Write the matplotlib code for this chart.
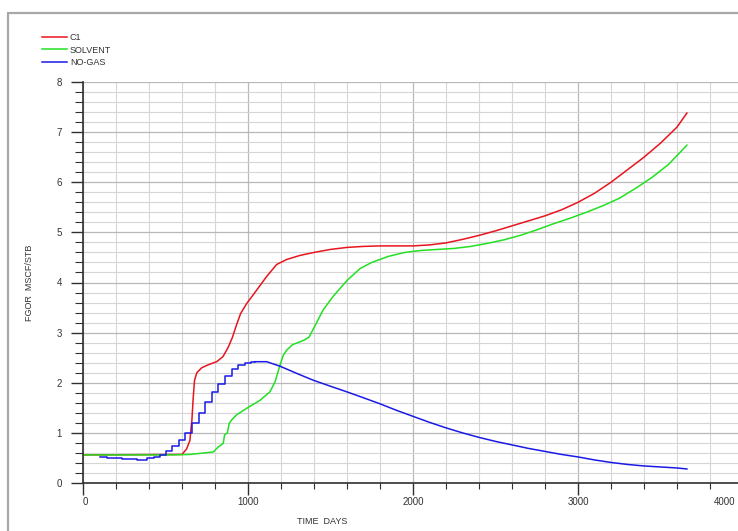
import matplotlib
matplotlib.use("Agg")
import matplotlib.pyplot as plt
import matplotlib.transforms as mtransforms
from matplotlib.ticker import MultipleLocator
from matplotlib.patches import Rectangle

plt.rcParams['font.family'] = ['Liberation Sans', 'DejaVu Sans']

# ---- data ----
series_names = ["C1", "SOLVENT", "NO-GAS"]

c1_t = [0, 600, 628, 648, 652, 660, 668, 676, 690, 720, 760, 810, 848, 879, 905, 930, 955,
        992, 1053, 1113, 1174, 1235, 1315, 1400, 1500, 1600, 1700, 1800, 1900, 2000, 2100,
        2200, 2300, 2400, 2500, 2600, 2700, 2800, 2900, 3000, 3100, 3200, 3300, 3400, 3500,
        3600, 3660]
c1_v = [0.56, 0.57, 0.68, 0.85, 1.0, 1.25, 1.7, 2.05, 2.2, 2.3, 2.36, 2.42, 2.52, 2.7, 2.9,
        3.15, 3.38, 3.58, 3.85, 4.12, 4.36, 4.46, 4.54, 4.6, 4.66, 4.7, 4.72, 4.73, 4.73, 4.73,
        4.75, 4.79, 4.86, 4.94, 5.03, 5.13, 5.23, 5.33, 5.45, 5.6, 5.78, 6.0, 6.25, 6.5, 6.78,
        7.1, 7.38]

solvent_t = [0, 527, 650, 790, 820, 850, 858, 875, 886, 901, 931, 992, 1073, 1133, 1164, 1194,
             1214, 1234, 1270, 1340, 1370, 1400, 1455, 1515, 1600, 1680, 1750, 1850, 1950,
             2050, 2150, 2250, 2350, 2450, 2550, 2650, 2750, 2850, 2950, 3050, 3150, 3250,
             3350, 3450, 3550, 3660]
solvent_v = [0.56, 0.56, 0.57, 0.62, 0.72, 0.79, 0.96, 1.0, 1.19, 1.26, 1.36, 1.49, 1.65, 1.82,
             2.02, 2.35, 2.55, 2.65, 2.76, 2.85, 2.91, 3.1, 3.45, 3.72, 4.04, 4.28, 4.4, 4.52,
             4.6, 4.64, 4.66, 4.68, 4.72, 4.78, 4.85, 4.94, 5.05, 5.17, 5.28, 5.4, 5.53, 5.68,
             5.88, 6.1, 6.36, 6.74]

# NO-GAS: early part is reported in time-step stairs, later part smooth
nogas_step_t = [103, 184, 285, 365, 416, 450, 480, 520, 560, 600, 640, 680, 720, 760, 800,
                840, 880, 920, 960, 1000, 1040]
nogas_step_v = [0.52, 0.49, 0.47, 0.46, 0.49, 0.52, 0.56, 0.64, 0.74, 0.85, 0.99, 1.19, 1.40,
                1.62, 1.82, 1.98, 2.14, 2.27, 2.35, 2.40, 2.42]
nogas_t = [1040, 1113, 1194, 1300, 1396, 1500, 1598, 1700, 1800, 1900, 2000, 2100, 2200, 2300,
           2400, 2500, 2600, 2700, 2800, 2900, 3000, 3100, 3200, 3300, 3400, 3500, 3600, 3660]
nogas_v = [2.42, 2.42, 2.33, 2.18, 2.05, 1.93, 1.82, 1.70, 1.58, 1.45, 1.33, 1.21, 1.10, 1.00,
           0.91, 0.83, 0.76, 0.69, 0.63, 0.57, 0.52, 0.46, 0.41, 0.37, 0.34, 0.32, 0.30, 0.28]

x_ticks = [0, 1000, 2000, 3000, 4000]
y_ticks = [0, 1, 2, 3, 4, 5, 6, 7, 8]

# ---- figure ----
W, H = 738, 531
fig = plt.figure(figsize=(W / 100, H / 100), dpi=100)

# outer gray frame
fig.add_artist(Rectangle((8 / W, -0.1), 1.2, (H - 13) / H + 0.1, transform=fig.transFigure,
                         fill=False, edgecolor='#a8a8a8', linewidth=1.6))

x0, x1 = 83, 743
y0, y1 = 483, 82
ax = fig.add_axes([x0 / W, (H - y0) / H, (x1 - x0) / W, (y0 - y1) / H])

red, green, blue = '#e8141e', '#22e022', '#1a1ae6'
lw = 1.1
ax.plot(c1_t, c1_v, color=red, lw=lw, label=series_names[0])
ax.plot(solvent_t, solvent_v, color=green, lw=lw, label=series_names[1])
ax.plot(nogas_step_t, nogas_step_v, color=blue, lw=lw, drawstyle='steps-mid',
        label=series_names[2])
ax.plot(nogas_t, nogas_v, color=blue, lw=lw)

ax.set_xlim(0, 4000)
ax.set_ylim(0, 8)
ax.set_xticks(x_ticks)
ax.set_yticks(y_ticks)
ax.xaxis.set_minor_locator(MultipleLocator(200))
ax.yaxis.set_minor_locator(MultipleLocator(0.2))

ax.grid(which='minor', color='#d6d6d6', lw=0.8)
ax.grid(which='major', color='#b8b8b8', lw=0.9)
ax.set_axisbelow(True)

for s in ['top', 'right']:
    ax.spines[s].set_visible(False)
for s in ['left', 'bottom']:
    ax.spines[s].set_color('#303030')
    ax.spines[s].set_linewidth(1.2)

ax.tick_params(axis='y', which='major', length=9, width=1.0, color='#303030',
               labelsize=7, labelcolor='#333333', pad=6)
ax.tick_params(axis='y', which='minor', length=5.5, width=0.8, color='#303030')
ax.tick_params(axis='x', which='major', length=8.5, width=1.0, color='#303030',
               labelsize=7, labelcolor='#333333', pad=1.5)
ax.tick_params(axis='x', which='minor', length=4, width=0.8, color='#303030')

xl = ax.get_xticklabels()
xl[0].set_horizontalalignment('left')
xl[-1].set_horizontalalignment('right')
shift = mtransforms.ScaledTranslation(-8 / 100, 0, fig.dpi_scale_trans)
xl[-1].set_transform(xl[-1].get_transform() + shift)

ax.set_ylabel('FGOR  MSCF/STB', fontsize=6.5, color='#333333')
ax.yaxis.set_label_coords((34 - x0) / (x1 - x0), 0.5)
ax.set_xlabel('TIME  DAYS', fontsize=6.5, color='#333333')
ax.xaxis.set_label_coords((322 - x0) / (x1 - x0), -(517 - y0) / (y0 - y1))

ax.legend(loc='upper left', bbox_to_anchor=(42 / W, 1 - 33 / H), bbox_transform=fig.transFigure,
          frameon=False, fontsize=6.5, handlelength=2.8, handletextpad=0.3,
          labelspacing=0.4, borderpad=0, borderaxespad=0, labelcolor='#333333')

fig.savefig('out.png', dpi=100)
